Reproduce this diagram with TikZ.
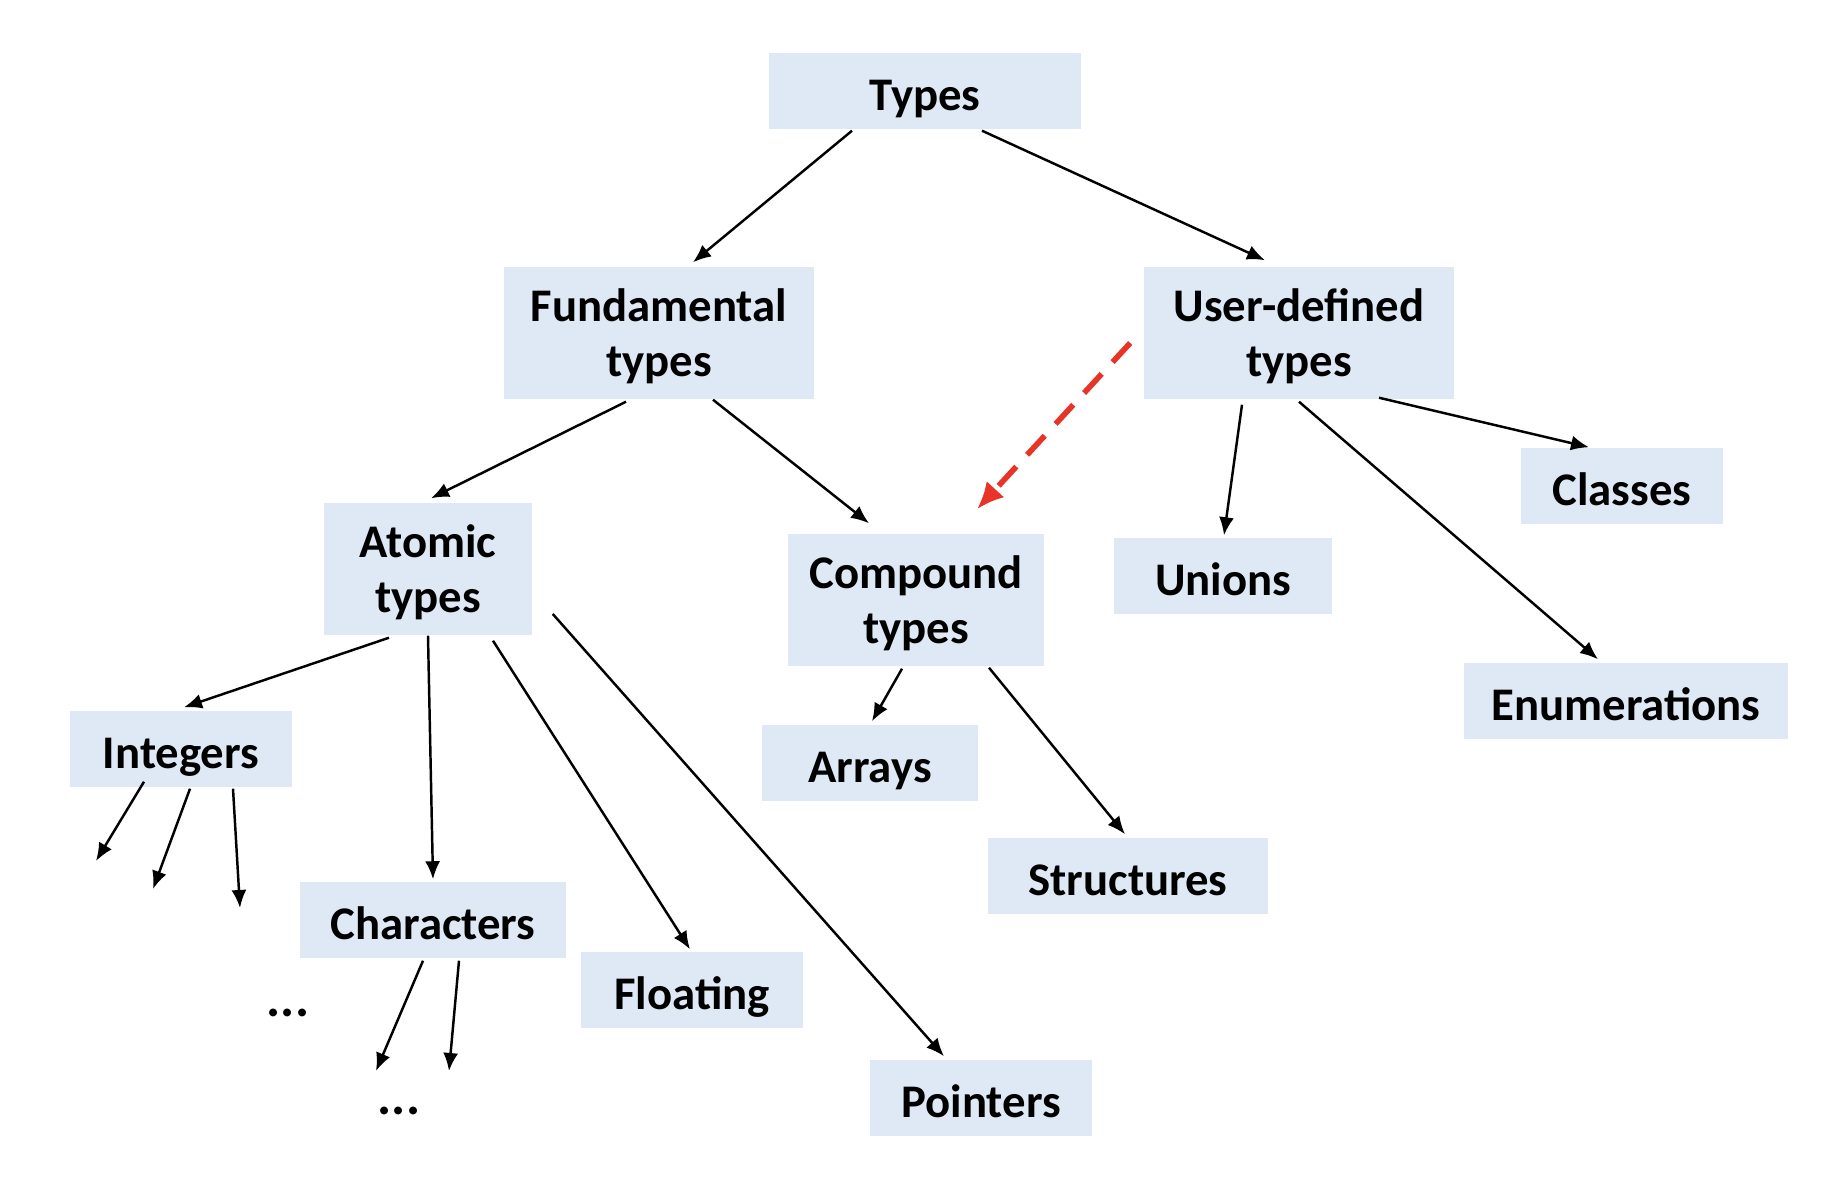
\documentclass[tikz,border=0pt]{standalone}
\usepackage{fontspec}
\setmainfont{Carlito}
\usetikzlibrary{arrows.meta,calc}
\definecolor{boxblue}{RGB}{223,233,245}
\definecolor{linkred}{RGB}{232,52,38}
% strut that lowers the first line a little
\newcommand\boxstrut{\rule{0pt}{3.9mm}}
\tikzset{
  % light blue type box
  tbox/.style  = {rectangle, fill=boxblue, inner sep=0pt, align=center,
                  font=\fontsize{13.3}{15.6}\selectfont\bfseries},
  % one- and two-line box heights
  one/.style   = {minimum height=0.76cm, text height=4.7mm, text depth=0.82mm},
  two/.style   = {minimum height=1.32cm},
  % trailing dots
  more/.style  = {inner sep=0pt, font=\fontsize{15}{17}\selectfont\bfseries},
  % arrows
  flow/.style  = {-{Latex[length=1.8mm,width=1.5mm]}, line width=0.7pt, black},
  link/.style  = {-{Latex[length=2.7mm,width=2.4mm]}, line width=1.6pt, linkred,
                  dash pattern=on 2.6mm off 1.6mm},
}
\begin{document}
\begin{tikzpicture}[x=0.01cm, y=-0.01cm]
  \useasboundingbox (0,0) rectangle (1842,1198);

  \node[tbox, one, minimum width=3.12cm] (types) at (925,91) {Types};

  \node[tbox, two, minimum width=3.10cm] (fund) at (659,333) {\boxstrut Fundamental\\types};
  \node[tbox, two, minimum width=3.10cm] (user) at (1299,333) {\boxstrut User-defined\\types};

  \node[tbox, two, minimum width=2.08cm] (atom) at (428,569) {\boxstrut Atomic\\types};
  \node[tbox, two, minimum width=2.55cm] (comp) at (916,600) {\boxstrut Compound\\types};

  \node[tbox, one, minimum width=2.18cm] (unions)  at (1223,576) {Unions};
  \node[tbox, one, minimum width=2.01cm] (classes) at (1622,486) {Classes};
  \node[tbox, one, minimum width=3.23cm] (enums)   at (1626,701) {Enumerations};

  \node[tbox, one, minimum width=2.22cm] (ints)    at (181,749)  {Integers};
  \node[tbox, one, minimum width=2.66cm] (chars)   at (433,920)  {Characters};
  \node[tbox, one, minimum width=2.22cm] (float)   at (692,990)  {Floating};
  \node[tbox, one, minimum width=2.22cm] (ptrs)    at (981,1098) {Pointers};

  \node[tbox, one, minimum width=2.15cm] (arrays)  at (870,763)  {Arrays};
  \node[tbox, one, minimum width=2.79cm] (structs) at (1128,876) {Structures};

  \node[more] (idots) at (288,1013) {...};
  \node[more] (cdots) at (399,1111) {...};

  % open ends below integers and characters
  \coordinate (i1) at (96,861);
  \coordinate (i2) at (153,889);
  \coordinate (i3) at (240,908);
  \coordinate (c1) at (376,1071);
  \coordinate (c2) at (449,1071);

  % --- edges ---
  \draw[flow] ($(types.south)+(-73,1)$) -- ($(fund.north)+(34,-4)$);
  \draw[flow] ($(types.south)+(57,1)$)  -- ($(user.north)+(-34,-6)$);

  \draw[flow] ($(fund.south)+(-33,2)$) -- ($(atom.north)+(3,-4)$);
  \draw[flow] ($(fund.south)+(54,0)$)  -- ($(comp.north)+(-47,-10)$);

  % user-defined types build on compound types
  \draw[link] ($(user.west)+(-13,10)$) -- ($(comp.north)+(61,-24)$);

  \draw[flow] ($(user.south)+(-57,5)$) -- ($(unions.north)+(1,-2)$);
  \draw[flow] ($(user.south)+(80,-2)$) -- ($(classes.north)+(-33,0)$);
  \draw[flow] ($(user.south)+(0,2)$)   -- ($(enums.north)+(-28,-3)$);

  \draw[flow] ($(atom.south)+(-39,2)$) -- ($(ints.north)+(3,-3)$);
  \draw[flow] (atom.south)             -- ($(chars.north)+(0,-2)$);
  \draw[flow] ($(atom.south)+(65,5)$)  -- ($(float.north)+(-2,-2)$);
  \draw[flow] ($(atom.east)+(20,45)$)  -- ($(ptrs.north)+(-37,-3)$);

  \draw[flow] ($(comp.south)+(-14,2)$) -- ($(arrays.north)+(2,-3)$);
  \draw[flow] ($(comp.south)+(73,1)$)  -- ($(structs.north)+(-3,-3)$);

  \foreach \dx/\dy/\e in {-37/-6/i1, 9/1/i2, 52/1/i3} {
    \draw[flow] ($(ints.south)+(\dx,\dy)$) -- (\e);
  }
  \foreach \dx/\e in {-10/c1, 26/c2} {
    \draw[flow] ($(chars.south)+(\dx,2)$) -- (\e);
  }

\end{tikzpicture}
\end{document}
